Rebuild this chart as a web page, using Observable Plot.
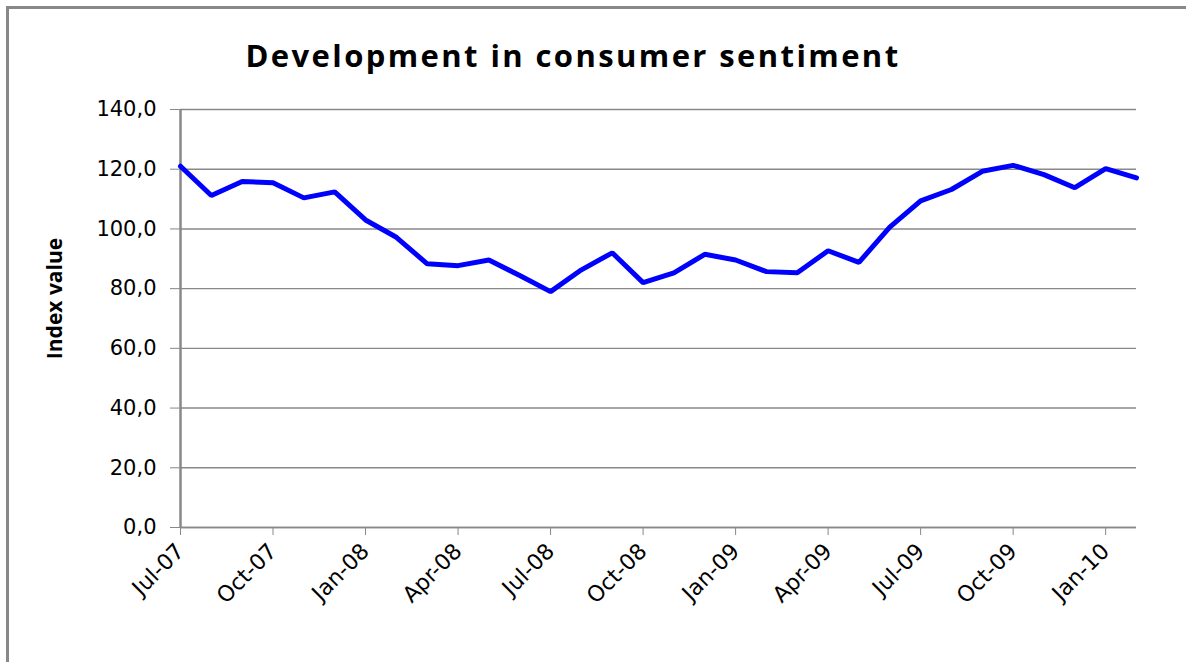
<!DOCTYPE html>
<html>
<head>
<meta charset="utf-8">
<script src="https://cdn.jsdelivr.net/npm/d3@7"></script>
<script src="https://cdn.jsdelivr.net/npm/@observablehq/plot@0.6"></script>
<style>
  body { margin: 0; background: #fff; }
  #wrap { position: relative; width: 1186px; height: 662px; overflow: hidden; background: #fff; }
  #frame { position: absolute; left: 6px; top: 6px; width: 1400px; height: 900px; border: 3px solid #888; box-sizing: border-box; pointer-events: none; }
  #title { width: 1146px; height: 90px; line-height: 110px; text-align: center; font-family: "Open Sans", sans-serif; font-weight: 700; font-size: 31px; letter-spacing: 2.4px; color: #000; white-space: nowrap; }
  #chart svg { display: block; }
</style>
</head>
<body>
<div id="wrap">
  <div id="title">Development in consumer sentiment</div>
  <div id="chart"></div>
  <div id="frame"></div>
</div>
<script>
const months = ["Jul-07","Aug-07","Sep-07","Oct-07","Nov-07","Dec-07",
  "Jan-08","Feb-08","Mar-08","Apr-08","May-08","Jun-08","Jul-08","Aug-08","Sep-08","Oct-08","Nov-08","Dec-08",
  "Jan-09","Feb-09","Mar-09","Apr-09","May-09","Jun-09","Jul-09","Aug-09","Sep-09","Oct-09","Nov-09","Dec-09",
  "Jan-10","Feb-10"];
const values = [121.0,111.2,115.9,115.5,110.4,112.4,
  103.0,97.2,88.3,87.7,89.6,84.4,79.0,86.3,92.0,82.0,85.3,91.5,
  89.6,85.7,85.3,92.7,88.8,100.6,109.4,113.2,119.3,121.3,118.2,113.8,
  120.2,117.1];
const xTickLabels = ["Jul-07","Oct-07","Jan-08","Apr-08","Jul-08","Oct-08","Jan-09","Apr-09","Jul-09","Oct-09","Jan-10"];
const yTicks = [0,20,40,60,80,100,120,140];
const yLabel = "Index value";

const data = months.map((m, i) => ({month: m, value: values[i]}));
const fmt = d => d.toFixed(1).replace(".", ",");

const chart = Plot.plot({
  width: 1186,
  height: 572,
  marginLeft: 180,
  marginRight: 50,
  marginTop: 19,
  marginBottom: 135,
  style: {fontFamily: "DejaVu Sans", fontSize: "20px", color: "#000", background: "transparent"},
  x: {type: "point", domain: months, padding: 0, round: false},
  y: {domain: [0, 140]},
  marks: [
    Plot.gridY(yTicks, {stroke: "#888", strokeOpacity: 1, strokeWidth: 1.4}),
    Plot.ruleY([0], {stroke: "#888", strokeWidth: 1.6}),
    Plot.ruleX([months[0]], {y1: 0, y2: 140, stroke: "#888", strokeWidth: 2.5}),
    Plot.axisY(yTicks, {tickFormat: fmt, tickSize: 10, tickPadding: 14, stroke: "#888", strokeOpacity: 1, fill: "#000", fontSize: 21, fontFamily: "DejaVu Sans", label: null}),
    Plot.axisX(xTickLabels, {tickRotate: -45, tickSize: 8, tickPadding: 12, stroke: "#888", strokeOpacity: 1, fill: "#000", fontSize: 22, fontFamily: "DejaVu Sans", label: null}),
    Plot.line(data, {x: "month", y: "value", stroke: "#0000ff", strokeWidth: 5, strokeLinejoin: "miter"}),
    Plot.text([yLabel], {frameAnchor: "left", dx: -125, dy: -20, rotate: -90, text: d => d, textAnchor: "middle", lineAnchor: "middle", fontWeight: "bold", fontFamily: "Open Sans", fontSize: 21, fill: "#000"})
  ]
});
document.getElementById("chart").appendChild(chart);
</script>
</body>
</html>
